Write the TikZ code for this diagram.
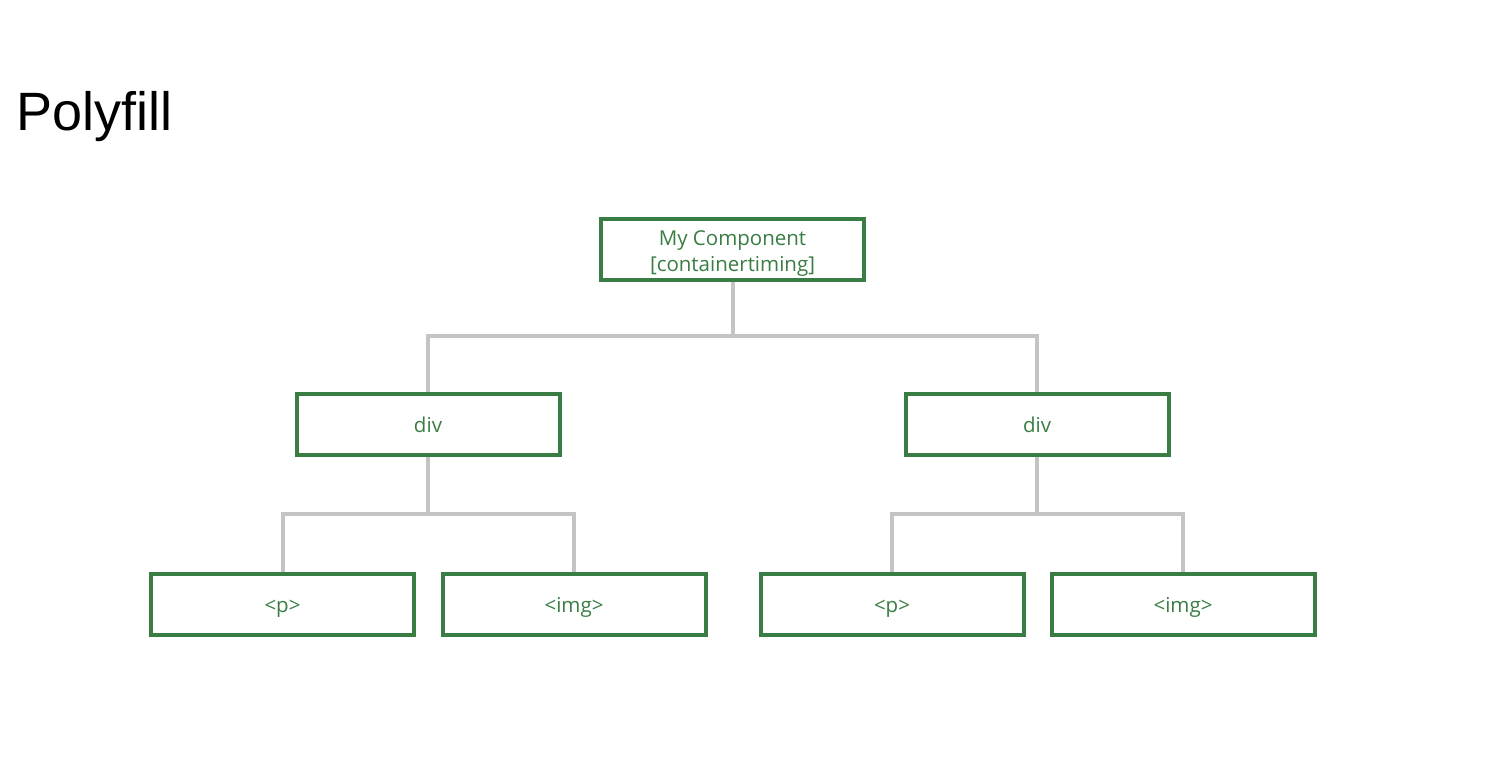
\documentclass[tikz,border=0pt]{standalone}
\usepackage{fontspec}
\setmainfont{Liberation Sans}
\newfontfamily\boxfont{Open Sans}
\definecolor{boxgreen}{HTML}{3A7D44}
\definecolor{conngray}{HTML}{C4C4C4}
\begin{document}
\begin{tikzpicture}[x=1pt,y=-1pt,
  box/.style={draw=boxgreen, line width=4pt, fill=white, minimum width=263pt, minimum height=61pt,
    inner sep=0pt, text=boxgreen, font=\boxfont\fontsize{20.5}{26}\selectfont, align=center},
  leaf/.style={box, text height=18pt, text depth=2pt},
  conn/.style={draw=conngray, line width=4pt}]
\useasboundingbox (0,0) rectangle (1498,766);
\node[anchor=base west, font=\fontsize{54}{60}\selectfont, inner sep=0pt] (title) at (16,130) {Polyfill};
\node[box] (top) at (732.5,249) {\rule{0pt}{24pt}My Component\\{}[containertiming]};
\node[leaf] (divL) at (428,424) {div};
\node[leaf] (divR) at (1037,424) {div};
\node[leaf] (p1) at (282.5,604.5) {<p>};
\node[leaf] (img1) at (574,604.5) {<img>};
\node[leaf] (p2) at (892,604.5) {<p>};
\node[leaf] (img2) at (1183,604.5) {<img>};
\coordinate (j1) at (732.5,336);
\coordinate (j2) at (428,514);
\coordinate (j3) at (1037,514);
\draw[conn] (top.south) -- (j1);
\draw[conn] (j1) -| (divL.north);
\draw[conn] (j1) -| (divR.north);
\draw[conn] (divL.south) -- (j2);
\draw[conn] (j2) -| (p1.north);
\draw[conn] (j2) -| (img1.north);
\draw[conn] (divR.south) -- (j3);
\draw[conn] (j3) -| (p2.north);
\draw[conn] (j3) -| (img2.north);
\end{tikzpicture}
\end{document}
